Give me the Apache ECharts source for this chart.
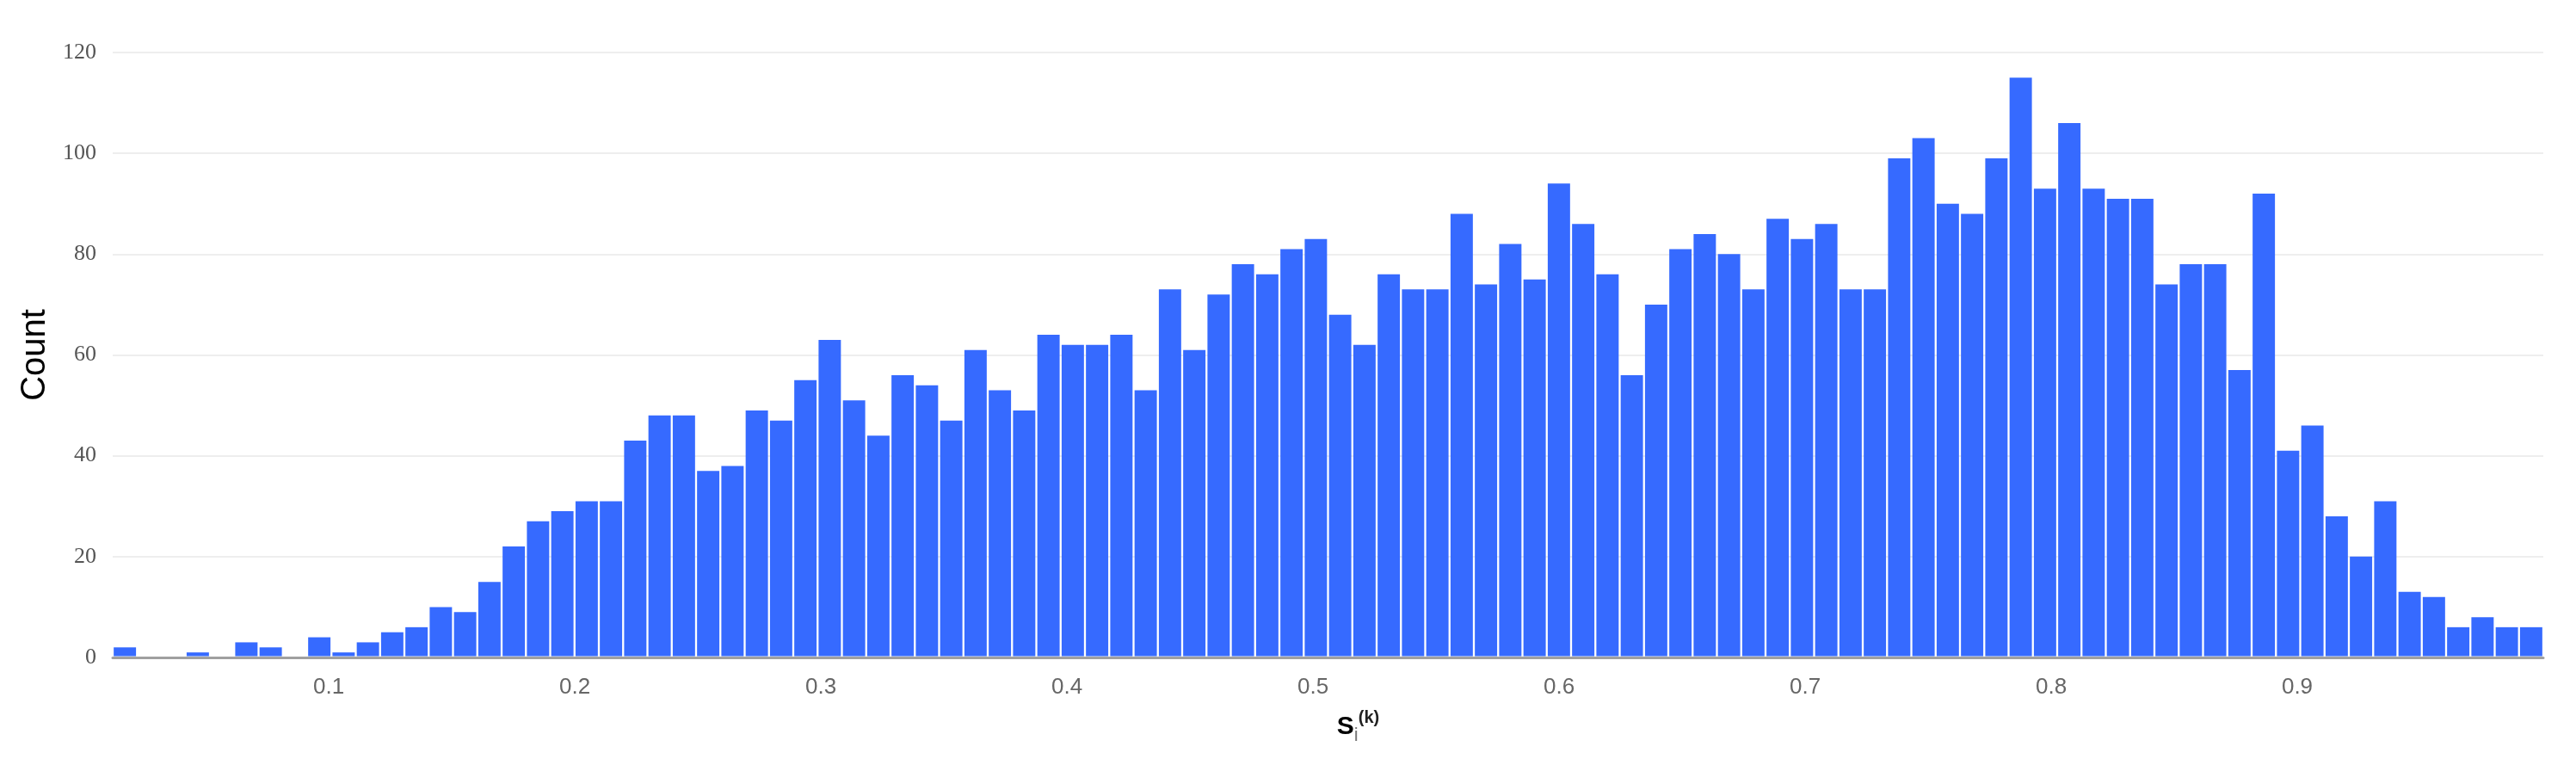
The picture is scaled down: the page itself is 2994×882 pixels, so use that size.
<!DOCTYPE html>
<html>
<head>
<meta charset="utf-8">
<title>Histogram</title>
<script src="https://cdn.jsdelivr.net/npm/echarts@6/dist/echarts.min.js"></script>
<style>
html, body { margin: 0; padding: 0; background: #fff; }
#chart { width: 2994px; height: 882px; }
</style>
</head>
<body>
<div id="chart"></div>
<script>
// histogram counts, 100 bins from binMin to binMax
const counts = [
  2, 0, 0, 1, 0, 3, 2, 0, 4, 1,
  3, 5, 6, 10, 9, 15, 22, 27, 29, 31,
  31, 43, 48, 48, 37, 38, 49, 47, 55, 63,
  51, 44, 56, 54, 47, 61, 53, 49, 64, 62,
  62, 64, 53, 73, 61, 72, 78, 76, 81, 83,
  68, 62, 76, 73, 73, 88, 74, 82, 75, 94,
  86, 76, 56, 70, 81, 84, 80, 73, 87, 83,
  86, 73, 73, 99, 103, 90, 88, 99, 115, 93,
  106, 93, 91, 91, 74, 78, 78, 57, 92, 41,
  46, 28, 20, 31, 13, 12, 6, 8, 6, 6
]
const binMin = 0.0122
const binMax = 1.0
const yTicks = [0, 20, 40, 60, 80, 100, 120]

const binWidth = (binMax - binMin) / counts.length
const bins = counts.map((c, i) => [binMin + i * binWidth, binMin + (i + 1) * binWidth, c])

const chart = echarts.init(document.getElementById('chart'))
chart.setOption({
  animation: false,
  grid: { left: 131, right: 38, top: 61, bottom: 118, containLabel: false },
  xAxis: {
    type: 'value',
    min: binMin,
    max: binMax,
    splitNumber: 10,
    name: '{s|S}{i|i}{k|(k)}',
    nameLocation: 'middle',
    nameGap: 60,
    nameTextStyle: {
      padding: [0, 0, 0, 70],
      rich: {
        s: { fontFamily: 'Liberation Sans', fontSize: 30, fontWeight: 'bold', color: '#000', lineHeight: 42 },
        i: { fontFamily: 'Liberation Sans', fontSize: 22, color: '#777', verticalAlign: 'bottom' },
        k: { fontFamily: 'Liberation Sans', fontSize: 20, fontWeight: 'bold', color: '#222', verticalAlign: 'top' }
      }
    },
    axisLine: { show: true, lineStyle: { color: '#a0a0a0', width: 3 } },
    axisTick: { show: false },
    splitLine: { show: false },
    axisLabel: {
      showMinLabel: false,
      showMaxLabel: false,
      margin: 22,
      fontFamily: 'Liberation Sans',
      fontSize: 26,
      color: '#666',
      formatter: v => Math.abs(v * 10 - Math.round(v * 10)) < 1e-6 && v < 0.99 ? v.toFixed(1) : ''
    }
  },
  yAxis: {
    type: 'value',
    min: yTicks[0],
    max: yTicks[yTicks.length - 1],
    interval: 20,
    name: 'Count',
    nameLocation: 'middle',
    nameRotate: 90,
    nameGap: 70,
    nameTextStyle: { fontFamily: 'Liberation Sans', fontSize: 40, color: '#000' },
    axisLine: { show: false },
    axisTick: { show: false },
    splitLine: { lineStyle: { color: '#eeeeee', width: 2 } },
    axisLabel: { margin: 19, fontFamily: 'Liberation Serif', fontSize: 26, color: '#555' }
  },
  series: [{
    type: 'custom',
    data: bins,
    encode: { x: [0, 1], y: 2 },
    renderItem: (params, api) => {
      const p0 = api.coord([api.value(0), api.value(2)])
      const p1 = api.coord([api.value(1), 0])
      const gap = 1.15
      const h = Math.max(0, p1[1] - p0[1] - 1.5)
      return {
        type: 'rect',
        shape: { x: p0[0] + gap, y: p1[1] - 1.5 - h, width: p1[0] - p0[0] - 2 * gap, height: h },
        style: { fill: '#366aff' }
      }
    }
  }]
})
</script>
</body>
</html>
